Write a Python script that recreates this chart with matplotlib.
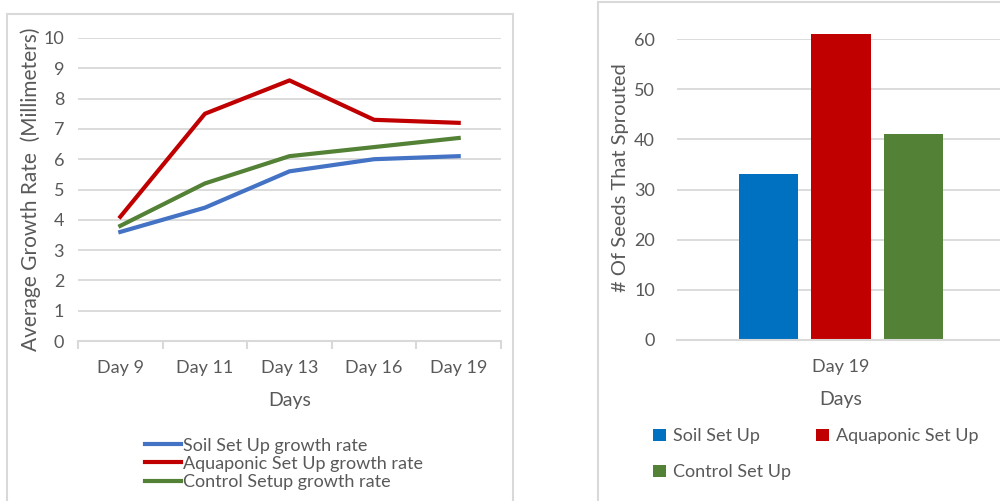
#!/usr/bin/env python3

import matplotlib.pyplot as plt
from matplotlib.patches import Rectangle

# growth rate data (left panel)
days = ['Day 9', 'Day 11', 'Day 13', 'Day 16', 'Day 19']
soil_growth = [3.6, 4.4, 5.6, 6.0, 6.1]
aquaponic_growth = [4.1, 7.5, 8.6, 7.3, 7.2]
control_growth = [3.8, 5.2, 6.1, 6.4, 6.7]

# sprouted seeds (right panel)
setups = ['Soil Set Up', 'Aquaponic Set Up', 'Control Set Up']
sprouted = [33, 61, 41]
sprout_day = 'Day 19'

TEXT = '#595959'
GRID = '#d9d9d9'
W, H = 1000, 501

plt.rcParams['font.family'] = ['Lato', 'DejaVu Sans']


def fig_box(x0, y0, x1, y1):
    """pixel box (top-left origin) -> figure fraction rect"""
    return [x0 / W, 1 - y1 / H, (x1 - x0) / W, (y1 - y0) / H]


fig = plt.figure(figsize=(10, 5.01), dpi=100)

# panel borders
for x0, y0, x1, y1 in [(7, 14, 513, 520), (598, 2, 1010, 520)]:
    b = fig_box(x0, y0, x1, y1)
    fig.patches.append(Rectangle((b[0], b[1]), b[2], b[3], transform=fig.transFigure,
                                 fill=False, edgecolor=GRID, linewidth=1.5))

# ---- left: line chart
ax = fig.add_axes(fig_box(78, 38, 501, 341))
x = range(len(days))
ax.plot(x, soil_growth, color='#4472c4', lw=3, label='Soil Set Up growth rate')
ax.plot(x, aquaponic_growth, color='#c00000', lw=3, label='Aquaponic Set Up growth rate')
ax.plot(x, control_growth, color='#538135', lw=3, label='Control Setup growth rate')
ax.set_xlim(-0.5, len(days) - 0.5)
ax.set_ylim(0, 10)
ax.set_yticks(range(0, 11))
ax.set_xticks(list(x))
ax.set_xticklabels(days)
ax.set_xticks([i - 0.5 for i in range(len(days) + 1)], minor=True)
ax.tick_params(axis='x', which='major', length=0, pad=14, labelsize=13, labelcolor=TEXT)
ax.tick_params(axis='x', which='minor', length=6, color=GRID, width=1.5)
ax.tick_params(axis='y', length=0, pad=10, labelsize=13, labelcolor=TEXT)
ax.grid(axis='y', color=GRID, lw=1.3)
for s in ['top', 'right', 'left']:
    ax.spines[s].set_visible(False)
ax.spines['bottom'].set_color(GRID)
ax.spines['bottom'].set_linewidth(1.5)
ax.set_axisbelow(True)
ax.set_xlabel('Days', fontsize=14, color=TEXT, labelpad=11)
ax.set_ylabel('Average Growth Rate  (Millimeters)', fontsize=15, color=TEXT, labelpad=2)
ax.legend(loc='upper left', bbox_to_anchor=(0.142, -0.295), frameon=False,
          fontsize=13, labelcolor=TEXT, handlelength=2.0, handletextpad=0.1,
          labelspacing=0.12, borderaxespad=0)

# ---- right: bar chart
ax2 = fig.add_axes(fig_box(677, 39, 1005, 340))
colors = ['#0070c0', '#c00000', '#538135']
offsets = [-0.22, 0, 0.22]
bars = []
for name, val, c, off in zip(setups, sprouted, colors, offsets):
    bars.append(ax2.bar(off, val, width=0.18, color=c, label=name, clip_on=False))
ax2.set_xlim(-0.5, 0.5)
ax2.set_ylim(0, 60)
ax2.set_yticks(range(0, 61, 10))
ax2.set_xticks([0])
ax2.set_xticklabels([sprout_day])
ax2.tick_params(axis='x', length=0, pad=14, labelsize=13, labelcolor=TEXT)
ax2.tick_params(axis='y', length=0, pad=16, labelsize=13, labelcolor=TEXT)
ax2.grid(axis='y', color=GRID, lw=1.3)
for s in ['top', 'right', 'left']:
    ax2.spines[s].set_visible(False)
ax2.spines['bottom'].set_color(GRID)
ax2.spines['bottom'].set_linewidth(1.5)
ax2.set_axisbelow(True)
ax2.set_xlabel('Days', fontsize=14, color=TEXT, labelpad=11)
ax2.set_ylabel('# Of Seeds That Sprouted', fontsize=14.5, color=TEXT)
ax2.yaxis.set_label_coords(-0.145, 0.54)
# row-major order: soil, aquaponic / control
order = [0, 2, 1]
ax2.legend([bars[i] for i in order], [setups[i] for i in order],
           loc='upper left', bbox_to_anchor=(-0.095, -0.27), frameon=False, ncol=2,
           fontsize=13, labelcolor=TEXT, handlelength=0.7, handleheight=0.7,
           handletextpad=0.4, columnspacing=1.4, labelspacing=1.1, borderaxespad=0)

fig.savefig('out.png', dpi=100)
